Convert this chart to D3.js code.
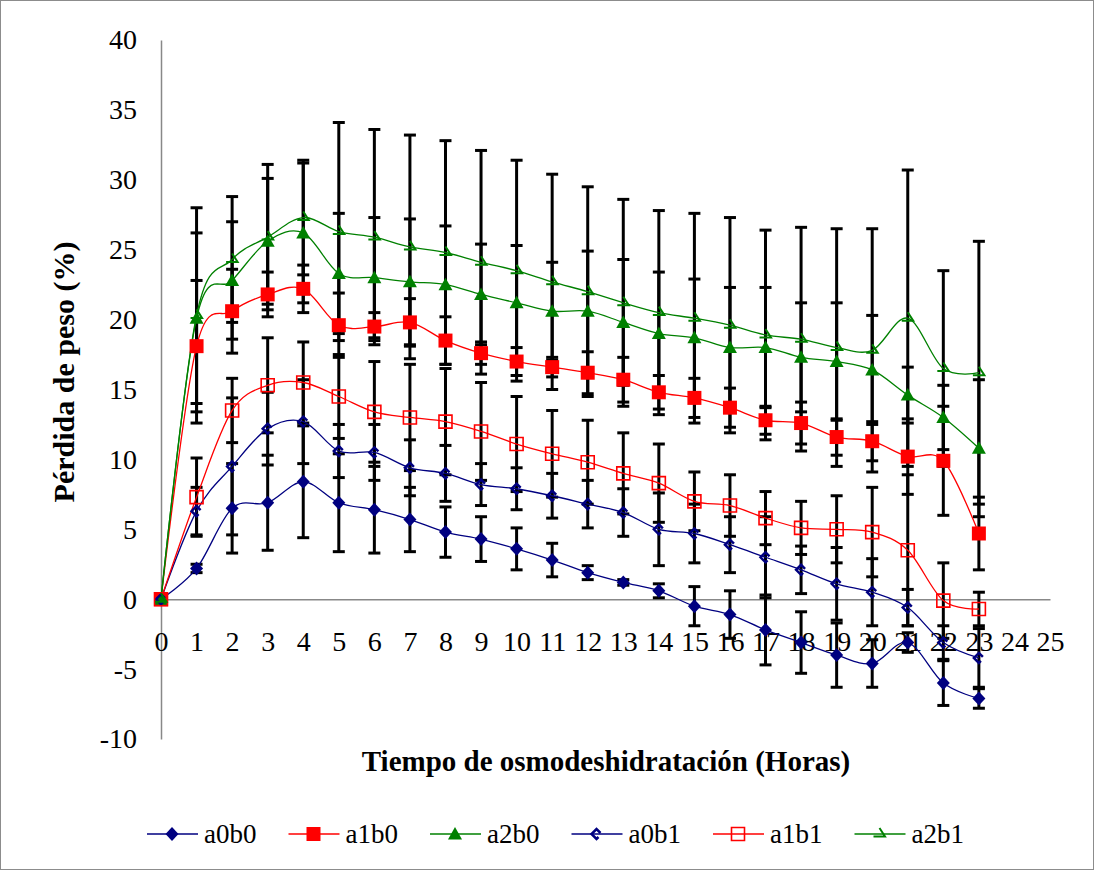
<!doctype html>
<html lang="es">
  <head>
    <meta charset="utf-8">
    <script src="https://d3js.org/d3.v7.min.js"></script>
    <title>Perdida de peso</title>
    <style>
      body { margin: 0; background: #fff; }
      svg text { font-family: "Liberation Serif", "Times New Roman", serif; fill: #000; }
    </style>
  </head>
  <body>
    <svg id="chart" width="1095" height="871"></svg>

<script>
// horas de osmodeshidratacion
var hours = [0,1,2,3,4,5,6,7,8,9,10,11,12,13,14,15,16,17,18,19,20,21,22,23]
var xTicks = [0,1,2,3,4,5,6,7,8,9,10,11,12,13,14,15,16,17,18,19,20,21,22,23,24,25]
var yTicks = [-10,-5,0,5,10,15,20,25,30,35,40]

// medias (%)
var a0b0 = [0,2.2,6.5,6.9,8.4,6.9,6.4,5.7,4.8,4.3,3.6,2.8,1.9,1.2,0.6,-0.5,-1.1,-2.2,-3.1,-4.0,-4.6,-3.1,-6.0,-7.1]
var a1b0 = [0,18.1,20.6,21.8,22.2,19.6,19.5,19.8,18.5,17.6,17.0,16.6,16.2,15.7,14.8,14.4,13.7,12.8,12.6,11.6,11.3,10.2,9.9,4.7]
var a2b0 = [0,20.1,22.8,25.6,26.2,23.3,23.0,22.7,22.5,21.8,21.2,20.6,20.6,19.8,19.0,18.7,18.0,18.0,17.3,17.0,16.4,14.6,13.0,10.8]
var a0b1 = [0,6.3,9.5,12.2,12.7,10.6,10.5,9.4,9.0,8.2,7.9,7.4,6.8,6.2,5.0,4.7,3.9,3.0,2.1,1.1,0.5,-0.6,-3.1,-4.2]
var a1b1 = [0,7.3,13.5,15.3,15.5,14.5,13.4,13.0,12.7,12.0,11.1,10.4,9.8,9.0,8.3,7.0,6.7,5.8,5.1,5.0,4.8,3.5,-0.1,-0.7]
var a2b1 = [0,20.3,24.3,25.9,27.3,26.3,25.9,25.2,24.8,24.1,23.5,22.7,22.0,21.2,20.5,20.1,19.6,18.9,18.6,18.0,17.8,20.1,16.5,16.2]

// desviaciones (barras de error)
var e_a0b0 = [0,0.3,3.2,3.4,4.0,3.5,3.1,2.3,1.8,1.6,1.5,1.2,0.5,0.2,0.5,1.4,1.7,2.5,2.2,2.3,1.7,0.7,1.6,0.7]
var e_a1b0 = [0,4.7,3.0,1.6,1.7,2.3,1.0,1.7,1.7,0.8,1.0,0.7,1.5,1.6,1.2,1.4,1.4,1.0,1.5,1.3,1.4,2.7,3.9,2.6]
var e_a2b0 = [0,6.1,4.2,4.5,5.0,4.3,4.3,4.5,4.2,3.6,4.1,3.5,4.3,4.5,4.4,4.2,4.3,4.3,3.9,4.2,3.9,2.0,2.3,4.9]
var e_a0b1 = [0,1.7,4.9,2.6,3.0,1.9,2.0,2.0,2.0,1.5,1.5,1.6,1.7,1.7,2.6,2.1,2.0,2.9,1.7,2.6,2.4,1.3,1.2,2.1]
var e_a1b1 = [0,2.8,2.3,3.4,2.9,3.0,3.6,3.8,3.8,3.5,3.4,3.1,3.0,2.9,2.8,2.1,2.2,1.9,1.9,2.4,3.2,5.4,2.7,1.2]
var e_a2b1 = [0,7.7,4.5,5.2,4.1,7.8,7.7,8.0,8.0,8.0,7.9,7.7,7.5,7.4,7.3,7.5,7.7,7.5,8.0,8.5,8.7,10.6,7.0,9.4]

var navy = "#000080", red = "#ff0000", green = "#008000"
var serif = "Liberation Serif, Times New Roman, serif"

var series = [
  {name: "a0b0", values: a0b0, err: e_a0b0, color: navy, marker: "diamond"},
  {name: "a1b0", values: a1b0, err: e_a1b0, color: red, marker: "square"},
  {name: "a2b0", values: a2b0, err: e_a2b0, color: green, marker: "triangle"},
  {name: "a0b1", values: a0b1, err: e_a0b1, color: navy, marker: "chevron"},
  {name: "a1b1", values: a1b1, err: e_a1b1, color: red, marker: "openSquare"},
  {name: "a2b1", values: a2b1, err: e_a2b1, color: green, marker: "openTri"}
]

var svg = d3.select("#chart")
var x = d3.scaleLinear().domain([0,25]).range([161,1050])
var y = d3.scaleLinear().domain([-10,40]).range([739,40])

// marco exterior
svg.append("rect").attr("x",0.5).attr("y",0.5).attr("width",1093).attr("height",869)
  .attr("fill","#fff").attr("stroke","#8c8c8c")

// ejes (guion normal para los negativos, como en Excel)
var fmt = function(d) { return String(d) }
svg.append("g").attr("transform","translate("+x(0)+",0)")
  .call(d3.axisLeft(y).tickValues(yTicks).tickFormat(fmt).tickSize(0).tickPadding(24))
svg.append("g").attr("transform","translate(0,"+y(0)+")")
  .call(d3.axisBottom(x).tickValues(xTicks).tickFormat(fmt).tickSize(0).tickPadding(32))
svg.selectAll(".domain").attr("stroke","#888").attr("stroke-width",1.5)
svg.selectAll(".tick text").attr("font-family",serif).style("font-size","28px")

// barras de error
var ebars = svg.append("g")
series.forEach(function(s) {
  hours.forEach(function(h, i) {
    if (s.err[i] == 0) return
    var top = y(s.values[i] + s.err[i]), bot = y(s.values[i] - s.err[i]), cx = x(h)
    ebars.append("line").attr("x1",cx).attr("x2",cx).attr("y1",top).attr("y2",bot)
      .attr("stroke","#000").attr("stroke-width",3)
    ebars.append("line").attr("x1",cx-6).attr("x2",cx+6).attr("y1",top).attr("y2",top)
      .attr("stroke","#000").attr("stroke-width",3)
    ebars.append("line").attr("x1",cx-6).attr("x2",cx+6).attr("y1",bot).attr("y2",bot)
      .attr("stroke","#000").attr("stroke-width",3)
  })
})

// lineas suavizadas
var line = d3.line().x(function(d){return x(d[0])}).y(function(d){return y(d[1])})
  .curve(d3.curveCardinal.tension(0))
series.forEach(function(s) {
  svg.append("path").datum(hours.map(function(h,i){return [h, s.values[i]]}))
    .attr("d", line).attr("fill","none").attr("stroke", s.color).attr("stroke-width",1.3)
})

// marcadores
function drawMarker(g, type, color, cx, cy) {
  var m = g.append("path").attr("transform","translate("+cx+","+cy+")")
  if (type == "diamond") m.attr("d","M0,-7L6.5,0L0,7L-6.5,0Z").attr("fill",color)
  if (type == "square") m.attr("d","M-7,-7H7V7H-7Z").attr("fill",color)
  if (type == "triangle") m.attr("d","M0,-7L7,5.5H-7Z").attr("fill",color)
  if (type == "chevron") m.attr("d","M4,-1L0,-5L-5,0L0,5L2,3").attr("fill","none").attr("stroke",color).attr("stroke-width",2.5)
  if (type == "openSquare") m.attr("d","M-6.5,-6.5H6.5V6.5H-6.5Z").attr("fill","none").attr("stroke",color).attr("stroke-width",1.6)
  if (type == "openTri") m.attr("d","M0,-6L5.5,2.5H-6").attr("fill","none").attr("stroke",color).attr("stroke-width",2)
}
series.forEach(function(s) {
  var g = svg.append("g")
  hours.forEach(function(h,i){ drawMarker(g, s.marker, s.color, x(h), y(s.values[i])) })
})

// titulos
svg.append("text").attr("transform","translate(74,372) rotate(-90)")
  .attr("text-anchor","middle").attr("font-family",serif)
  .style("font-size","30px").style("font-weight","bold")
  .text("Pérdida de peso (%)")
svg.append("text").attr("x",606).attr("y",771)
  .attr("text-anchor","middle").attr("font-family",serif)
  .style("font-size","29px").style("font-weight","bold")
  .text("Tiempo de osmodeshidratación (Horas)")

// leyenda
var legend = svg.append("g")
series.forEach(function(s, i) {
  var lx = 147 + i*141.5, ly = 834
  legend.append("line").attr("x1",lx).attr("x2",lx+51).attr("y1",ly).attr("y2",ly)
    .attr("stroke", s.color).attr("stroke-width",1.3)
  drawMarker(legend, s.marker, s.color, lx+25, ly)
  legend.append("text").attr("x",lx+57).attr("y",ly+9).attr("font-family",serif)
    .style("font-size","27px").text(s.name)
})
</script>
  </body>
</html>
